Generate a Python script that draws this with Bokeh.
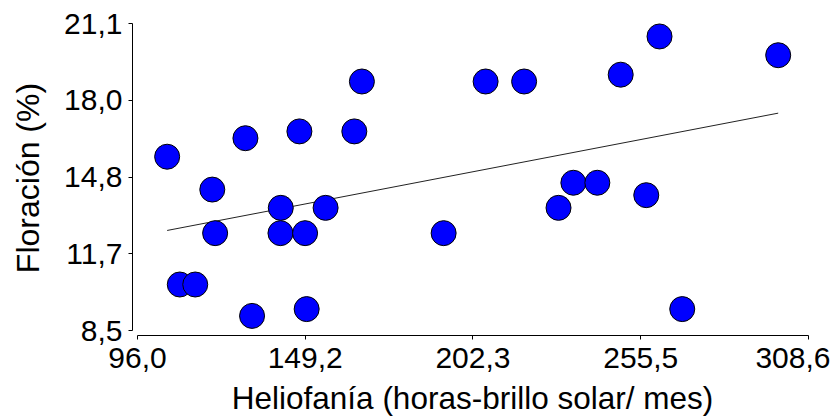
from bokeh.plotting import figure
from bokeh.models import FixedTicker, Range1d, ColumnDataSource
from bokeh.embed import file_html
from bokeh.resources import INLINE

# Data
heliofania = [105.4, 130.2, 147.3, 164.7, 167.1, 206.3, 119.7, 141.4, 155.6,
              120.6, 141.3, 149.1, 193.0, 109.4, 114.3, 132.3, 149.6, 218.5,
              249.1, 261.4, 299.0, 234.1, 241.7, 229.4, 257.2, 268.6]
floracion = [15.64, 16.40, 16.68, 16.68, 18.73, 18.73, 14.29, 13.54, 13.54,
             12.50, 12.50, 12.50, 12.50, 10.39, 10.39, 9.10, 9.38, 18.73,
             19.01, 20.58, 19.81, 14.57, 14.57, 13.54, 14.06, 9.38]

# Trend line at the extreme x values
trend_x = [105.4, 299.0]
trend_y = [12.61, 17.43]

x_ticks = [96.0, 149.15, 202.3, 255.45, 308.6]
x_tick_labels = ["96,0", "149,2", "202,3", "255,5", "308,6"]
y_ticks = [8.5, 11.65, 14.8, 17.95, 21.1]
y_tick_labels = ["8,5", "11,7", "14,8", "18,0", "21,1"]

FONT = "Liberation Sans"

p = figure(width=830, height=419, output_backend="svg", toolbar_location=None,
           x_range=Range1d(94.42, 309.87), y_range=Range1d(8.295, 21.236),
           min_border_left=132, min_border_right=18, min_border_top=20,
           min_border_bottom=84)
p.outline_line_color = None
p.grid.visible = False
p.background_fill_color = "white"
p.border_fill_color = "white"

src = ColumnDataSource(data=dict(x=heliofania, y=floracion))
p.line(trend_x, trend_y, line_color="#222222", line_width=1)
p.scatter("x", "y", source=src, size=25, fill_color="#0000FF",
          line_color="black", line_width=1)

for ax, ticks, labels, lo, hi in [
        (p.xaxis[0], x_ticks, x_tick_labels, 96.0, 308.6),
        (p.yaxis[0], y_ticks, y_tick_labels, 8.5, 21.1)]:
    ax.ticker = FixedTicker(ticks=ticks)
    ax.major_label_overrides = {t: l for t, l in zip(ticks, labels)}
    ax.bounds = (lo, hi)
    ax.axis_line_color = "black"
    ax.axis_line_width = 1
    ax.major_tick_line_color = "black"
    ax.major_tick_in = 0
    ax.major_tick_out = 4
    ax.minor_tick_line_color = None
    ax.major_label_text_font = FONT
    ax.major_label_text_font_size = "30px"
    ax.major_label_text_color = "black"
    ax.axis_label_text_font = FONT
    ax.axis_label_text_font_style = "normal"
    ax.axis_label_text_color = "black"

p.xaxis.axis_label = "Heliofanía (horas-brillo solar/ mes)"
p.yaxis.axis_label = "Floración (%)"
p.xaxis.major_label_standoff = 8
p.xaxis.axis_label_standoff = 9
p.xaxis.axis_label_text_font_size = "31.5px"
p.yaxis.major_label_standoff = 6
p.yaxis.axis_label_standoff = 15
p.yaxis.axis_label_text_font_size = "32px"

open("out.html", "w").write(file_html(p, INLINE))
